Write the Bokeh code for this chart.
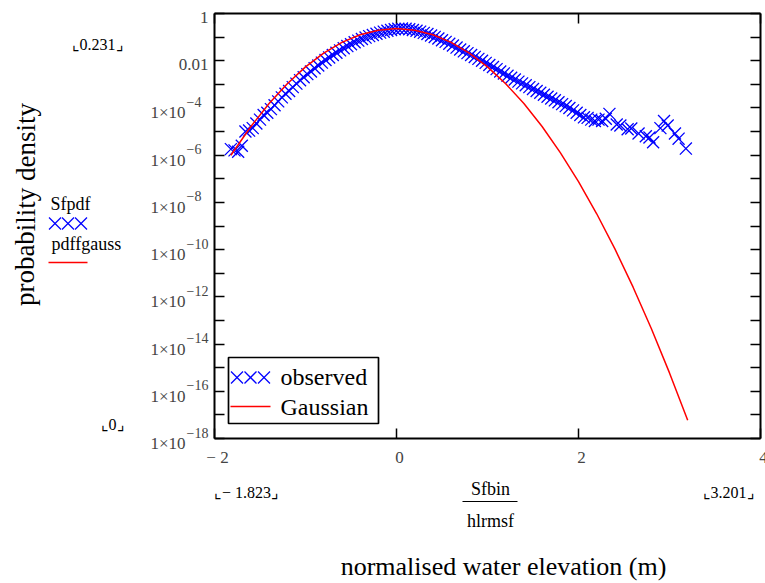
from bokeh.plotting import figure
from bokeh.models import (Range1d, FixedTicker, LogAxis, LinearAxis, Label,
                          PolyAnnotation)
from bokeh.embed import file_html
from bokeh.resources import INLINE

# ---------------- data ----------------
obs_x = [-1.82, -1.78, -1.74, -1.70, -1.66, -1.62, -1.58, -1.54, -1.50, -1.46,
         -1.42, -1.38, -1.34, -1.30, -1.26, -1.22, -1.18, -1.14, -1.10, -1.06,
         -1.02, -0.98, -0.94, -0.90, -0.86, -0.82, -0.78, -0.74, -0.70, -0.66,
         -0.62, -0.58, -0.54, -0.50, -0.46, -0.42, -0.38, -0.34, -0.30, -0.26,
         -0.22, -0.18, -0.14, -0.10, -0.06, -0.02, 0.02, 0.06, 0.10, 0.14,
         0.18, 0.22, 0.26, 0.30, 0.34, 0.38, 0.42, 0.46, 0.50, 0.54,
         0.58, 0.62, 0.66, 0.70, 0.74, 0.78, 0.82, 0.86, 0.90, 0.94,
         0.98, 1.02, 1.06, 1.10, 1.14, 1.18, 1.22, 1.26, 1.30, 1.34,
         1.38, 1.42, 1.46, 1.50, 1.54, 1.58, 1.62, 1.66, 1.70, 1.74,
         1.78, 1.82, 1.86, 1.90, 1.94, 1.98, 2.02, 2.06, 2.10, 2.14,
         2.18, 2.22, 2.26, 2.30, 2.34, 2.42, 2.46, 2.54, 2.58, 2.66,
         2.74, 2.78, 2.82, 2.90, 2.94, 2.98, 3.06, 3.10, 3.18]
obs_pdf = [1.8e-6, 1.6e-6, 1.4e-6, 2.5e-6, 1.0e-5, 1.1e-5, 1.4e-5, 2.2e-5, 3.2e-5, 5.0e-5,
           6.3e-5, 8.9e-5, 1.3e-4, 1.9e-4, 2.8e-4, 4.0e-4, 5.2e-4, 7.6e-4, 1.07e-3, 1.5e-3,
           2.0e-3, 2.7e-3, 3.5e-3, 4.8e-3, 6.3e-3, 8.3e-3, 1.07e-2, 1.38e-2, 1.74e-2, 2.19e-2,
           2.75e-2, 3.39e-2, 4.17e-2, 5.0e-2, 6.03e-2, 7.08e-2, 8.32e-2, 9.55e-2, 0.110, 0.123,
           0.138, 0.155, 0.170, 0.186, 0.200, 0.214, 0.224, 0.231, 0.224, 0.214,
           0.200, 0.186, 0.170, 0.151, 0.135, 0.117, 0.102, 8.7e-2, 7.4e-2, 6.3e-2,
           5.2e-2, 4.4e-2, 3.6e-2, 3.0e-2, 2.5e-2, 2.1e-2, 1.74e-2, 1.45e-2, 1.2e-2, 1.0e-2,
           8.1e-3, 6.6e-3, 5.4e-3, 4.4e-3, 3.5e-3, 2.9e-3, 2.3e-3, 1.9e-3, 1.6e-3, 1.3e-3,
           1.1e-3, 9.1e-4, 7.6e-4, 6.3e-4, 5.2e-4, 4.4e-4, 3.6e-4, 3.0e-4, 2.5e-4, 2.1e-4,
           1.74e-4, 1.45e-4, 1.2e-4, 1.0e-4, 7.9e-5, 6.3e-5, 5.0e-5, 4.0e-5, 3.8e-5, 3.2e-5,
           2.8e-5, 3.2e-5, 2.8e-5, 3.5e-5, 5.6e-5, 2.0e-5, 1.8e-5, 1.26e-5, 1.35e-5, 8.3e-6,
           6.3e-6, 5.6e-6, 3.5e-6, 1.4e-5, 2.8e-5, 1.8e-5, 8.3e-6, 5.0e-6, 1.9e-6]

gauss_x = [-1.82, -1.6, -1.4, -1.2, -1.0, -0.8, -0.6, -0.4, -0.2, 0.0,
           0.2, 0.4, 0.6, 0.8, 1.0, 1.2, 1.4, 1.6, 1.8, 2.0,
           2.2, 2.4, 2.6, 2.8, 3.0, 3.2]
gauss_pdf = [9.9e-7, 1.63e-5, 1.53e-4, 1.06e-3, 5.5e-3, 2.10e-2, 5.98e-2, 0.126, 0.197, 0.229,
             0.197, 0.126, 5.98e-2, 2.10e-2, 5.5e-3, 1.06e-3, 1.53e-4, 1.63e-5, 1.29e-6, 7.6e-8,
             3.30e-9, 1.07e-10, 2.56e-12, 4.56e-14, 6.0e-16, 5.9e-18]

x_min, x_max = -2, 4
y_min, y_max = 1e-18, 1.0
x_ticks = [-2, 0, 2, 4]
x_tick_labels = ["\u2212 2", "0", "2", "4"]
y_ticks = [1.0, 1e-1, 1e-2, 1e-3, 1e-4, 1e-5, 1e-6, 1e-7, 1e-8, 1e-9, 1e-10,
           1e-11, 1e-12, 1e-13, 1e-14, 1e-15, 1e-16, 1e-17, 1e-18]
y_label_values = [1.0, 1e-2, 1e-4, 1e-6, 1e-8, 1e-10, 1e-12, 1e-14, 1e-16, 1e-18]
y_label_base = ["1", "0.01", "1\u00d710", "1\u00d710", "1\u00d710", "1\u00d710",
                "1\u00d710", "1\u00d710", "1\u00d710", "1\u00d710"]
y_label_exp = ["", "", "\u22124", "\u22126", "\u22128", "\u221210", "\u221212",
               "\u221214", "\u221216", "\u221218"]
series_names = ["observed", "Gaussian"]
trace_names = ["Sfpdf", "pdffgauss"]
limit_texts = ["\u231e0.231\u231f", "\u231e0\u231f", "\u231e\u2212 1.823\u231f", "\u231e3.201\u231f"]

# ---------------- layout ----------------
W, H = 765, 583
FL, FR, FT, FB = 214, 760, 13, 438   # data box edges in window pixels
FONT = "Liberation Serif"
BLUE = "#0000FF"
RED = "#FF0000"

# the plotting frame covers the whole window; extend the ranges so that the
# data box [-2,4] x [1e-18,1] lands on the pixel box above
ux = (x_max - x_min) / (FR - FL)
dec = 18.0 / (FB - FT)
xr = Range1d(x_min - FL * ux, x_max + (W - FR) * ux)
yr = Range1d(y_min * 10 ** (-(H - FB) * dec), y_max * 10 ** (FT * dec))

p = figure(width=W, height=H, output_backend="svg", toolbar_location=None,
           x_range=xr, y_range=yr, y_axis_type="log", x_axis_location=None,
           y_axis_location=None, min_border=0)
p.grid.visible = False
p.outline_line_color = None
p.background_fill_color = "white"
p.border_fill_color = "white"


def style_axis(ax):
    ax.major_tick_in = 10
    ax.major_tick_out = 0
    ax.minor_tick_in = 0
    ax.minor_tick_out = 0
    ax.major_tick_line_width = 1.5
    ax.major_tick_line_color = "black"
    ax.axis_line_width = 2
    ax.axis_line_color = "black"
    ax.major_label_text_font_size = "1px"
    ax.major_label_text_alpha = 0
    ax.major_label_standoff = 0


yt = FixedTicker(ticks=y_ticks, minor_ticks=[])
xt = FixedTicker(ticks=x_ticks, minor_ticks=[])
for loc, fixed in (("left", x_min), ("right", x_max)):
    ax = LogAxis(ticker=yt, fixed_location=fixed, bounds=(y_min, y_max))
    style_axis(ax)
    p.add_layout(ax, loc)
for loc, fixed in (("below", y_min), ("above", y_max)):
    ax = LinearAxis(ticker=xt, fixed_location=fixed, bounds=(x_min, x_max))
    style_axis(ax)
    p.add_layout(ax, loc)

# ---------------- data marks ----------------
p.scatter(obs_x, obs_pdf, marker="x", size=17, line_color=BLUE, line_width=1.3)
p.line(gauss_x, gauss_pdf, line_color=RED, line_width=1.5)


# ---------------- texts ----------------
def sx(X):
    return X


def sy(Y):
    return H - Y


def lab(text, X, Y, size, align="left", baseline="middle", angle=0.0, color="black"):
    p.add_layout(Label(x=sx(X), y=sy(Y), x_units="screen", y_units="screen", text=text,
                       text_font=FONT, text_font_size=f"{size}px", text_align=align,
                       text_baseline=baseline, angle=angle, text_color=color))


for v, b, e in zip(y_label_values, y_label_base, y_label_exp):
    if e:
        p.add_layout(Label(x=sx(185), y=v, x_units="screen", y_units="data", y_offset=-5,
                           text=b, text_font=FONT, text_font_size="17px",
                           text_align="right", text_baseline="middle"))
        p.add_layout(Label(x=sx(186), y=v, x_units="screen", y_units="data", y_offset=6,
                           text=e, text_font=FONT, text_font_size="14px",
                           text_align="left", text_baseline="middle"))
    else:
        p.add_layout(Label(x=sx(208), y=v, x_units="screen", y_units="data", y_offset=-4,
                           text=b, text_font=FONT, text_font_size="17px",
                           text_align="right", text_baseline="middle"))

for v, t in zip(x_ticks, x_tick_labels):
    p.add_layout(Label(x=v, y=sy(457), x_units="data", y_units="screen", x_offset=3,
                       text=t, text_font=FONT, text_font_size="17px",
                       text_align="center", text_baseline="middle"))

lab(limit_texts[0], 97, 44, 16, align="center")
lab(limit_texts[1], 112, 424, 16, align="center")
lab(limit_texts[2], 246, 492, 16, align="center")
lab(limit_texts[3], 728, 492, 16, align="center")
lab("Sfbin", 490, 488, 18, align="center")
lab("hlrmsf", 490, 520, 18, align="center")
lab("normalised water elevation (m)", 503, 566, 26, align="center")
lab("probability density", 25, 204, 27, align="center", angle=1.5707963)
lab(trace_names[0], 50, 203, 18)
lab(trace_names[1], 51, 243, 18)


def seg(X0, Y0, X1, Y1, color, width):
    p.add_layout(PolyAnnotation(xs=[sx(X0), sx(X1)], ys=[sy(Y0), sy(Y1)],
                                xs_units="screen", ys_units="screen",
                                fill_alpha=0, line_color=color, line_alpha=1.0,
                                line_width=width))


def cross(cx, cy, r, color):
    seg(cx - r, cy - r, cx + r, cy + r, color, 1.3)
    seg(cx - r, cy + r, cx + r, cy - r, color, 1.3)


# fraction bar
seg(462, 501, 517, 501, "black", 1.2)
# trace legend outside the data box
for cx in (54.5, 67.5, 80.5):
    cross(cx, 223, 6, BLUE)
seg(48, 262, 87, 262, RED, 1.5)

# legend box inside the data box
p.add_layout(PolyAnnotation(xs=[sx(228), sx(378), sx(378), sx(228)],
                            ys=[sy(357), sy(357), sy(423), sy(423)],
                            xs_units="screen", ys_units="screen",
                            fill_color="white", fill_alpha=1.0, line_color="black",
                            line_alpha=1.0, line_width=1.7))
for cx in (236.5, 250, 263.5):
    cross(cx, 377, 6, BLUE)
seg(230, 406, 270, 406, RED, 1.5)
lab(series_names[0], 280, 376, 24)
lab(series_names[1], 280, 406, 24)

open("out.html", "w").write(file_html(p, INLINE))
